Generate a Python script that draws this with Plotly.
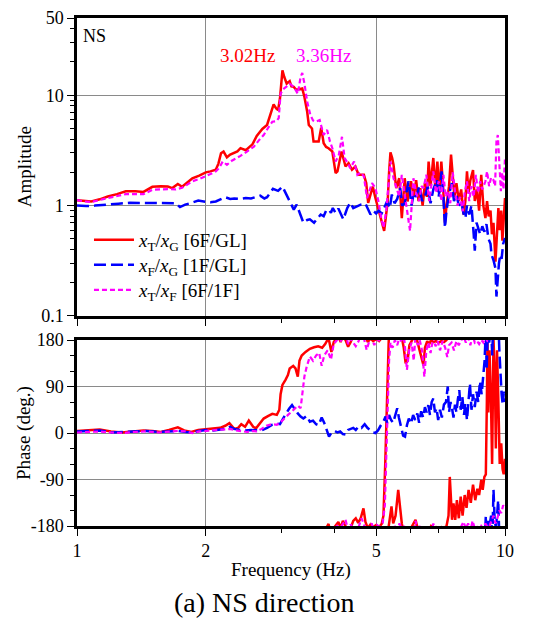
import plotly.graph_objects as go

# ---------------- data ----------------
# Amplitude: x_T/x_G [6F/GL]
f_tg = [1.00,1.04,1.08,1.13,1.18,1.24,1.30,1.37,1.43,1.50,1.57,1.63,1.67,1.72,1.76,1.81,1.86,1.93,2.00,2.05,2.11,2.14,2.17,2.20,2.24,2.28,2.33,2.37,2.41,2.48,2.53,2.57,2.63,2.67,2.71,2.78,2.84,2.88,2.92,2.95,2.98,3.02,3.05,3.09,3.14,3.17,3.21,3.25,3.30,3.36,3.40,3.45,3.48,3.54,3.57,3.67,3.72,3.77,3.82,3.87,3.95,4.02,4.06,4.10,4.15,4.20,4.24,4.31,4.39,4.47,4.55,4.68,4.74,4.79,4.85,4.91,4.98,5.07,5.16,5.22,5.27,5.32,5.36,5.40,5.45,5.49,5.57,5.66,5.74,5.83,5.92,6.03,6.12,6.20,6.28,6.34,6.42,6.50,6.57,6.63,6.70,6.80,6.88,6.95,7.02,7.10,7.16,7.24,7.30,7.40,7.48,7.55,7.62,7.70,7.80,7.90,8.00,8.08,8.15,8.22,8.30,8.42,8.50,8.60,8.70,8.80,8.90,9.00,9.08,9.16,9.25,9.32,9.40,9.50,9.58,9.65,9.72,9.80,9.86,9.92,10.0]
amp_tg = [1.12,1.10,1.09,1.14,1.21,1.27,1.35,1.35,1.33,1.48,1.50,1.49,1.44,1.57,1.48,1.62,1.77,1.87,2.00,2.04,2.11,2.40,2.98,3.09,2.74,2.90,3.04,3.10,3.31,3.17,3.40,3.59,4.27,4.60,4.94,5.37,7.08,8.24,7.60,7.33,9.33,16.8,14.6,12.7,13.4,12.0,11.9,11.2,11.3,11.5,9.6,7.08,5.37,5.0,3.80,3.80,5.08,3.67,3.40,3.31,3.09,1.97,2.04,2.50,3.09,2.60,2.26,2.42,2.11,2.26,1.90,1.90,1.60,1.06,1.25,1.49,1.17,0.92,0.72,0.59,0.80,1.09,2.0,3.04,2.70,2.34,1.44,1.77,0.77,1.77,1.09,1.66,1.20,1.70,1.10,1.44,1.00,1.60,1.20,2.50,1.50,2.70,1.40,2.50,1.30,2.50,1.60,0.70,1.00,1.50,2.90,2.00,1.20,1.60,1.10,1.40,0.83,1.10,2.04,1.30,1.70,2.10,1.10,1.40,0.90,1.90,1.00,0.77,1.10,0.80,0.90,0.55,0.70,0.31,0.60,0.95,0.60,0.90,0.48,0.80,1.17]

# Amplitude: x_F/x_G [1F/GL]
f_fg = [1.00,1.05,1.10,1.18,1.25,1.33,1.40,1.48,1.55,1.62,1.70,1.74,1.79,1.85,1.92,2.00,2.05,2.11,2.17,2.22,2.28,2.33,2.40,2.48,2.55,2.60,2.68,2.74,2.78,2.87,2.95,3.02,3.06,3.09,3.15,3.21,3.26,3.33,3.38,3.45,3.50,3.58,3.65,3.71,3.77,3.82,3.88,3.92,3.96,4.02,4.08,4.19,4.28,4.35,4.42,4.50,4.60,4.72,4.80,4.85,4.92,5.00,5.07,5.15,5.22,5.30,5.38,5.44,5.52,5.60,5.69,5.75,5.83,5.95,6.05,6.12,6.20,6.30,6.40,6.50,6.60,6.70,6.80,6.93,7.00,7.11,7.17,7.24,7.30,7.38,7.51,7.60,7.70,7.80,7.90,8.00,8.08,8.15,8.25,8.35,8.45,8.50,8.58,8.65,8.75,8.85,8.95,9.05,9.15,9.25,9.30,9.40,9.50,9.55,9.60,9.68,9.75,9.82,9.90,10.0]
amp_fg = [1.00,0.99,1.00,1.03,1.04,1.06,1.06,1.05,1.06,1.06,1.05,0.97,1.02,1.06,1.11,1.08,1.07,1.09,1.15,1.19,1.15,1.16,1.15,1.17,1.16,1.19,1.23,1.16,1.19,1.42,1.36,1.49,1.35,1.26,1.09,0.92,1.02,0.83,0.70,0.74,0.75,0.70,0.76,0.83,0.80,0.90,0.92,0.86,0.95,0.86,0.94,0.75,0.95,1.06,0.95,0.98,1.02,1.04,0.92,0.83,0.90,0.85,0.90,0.85,0.95,1.09,0.95,1.26,1.05,1.15,1.44,1.00,1.05,1.66,1.00,1.30,1.20,1.49,1.10,1.20,1.49,1.05,1.40,1.71,1.20,2.04,1.30,0.63,0.90,1.20,1.60,1.10,1.25,1.00,1.10,0.85,0.77,1.00,0.83,1.00,0.55,0.39,0.70,0.63,0.55,0.65,0.58,0.68,0.50,0.45,0.36,0.32,0.27,0.15,0.21,0.30,0.36,0.33,0.45,0.51]

# Amplitude: x_T/x_F [6F/1F]
f_tf = [1.00,1.04,1.08,1.13,1.18,1.24,1.30,1.37,1.43,1.50,1.57,1.63,1.70,1.76,1.81,1.86,1.93,2.00,2.05,2.11,2.15,2.19,2.24,2.30,2.37,2.41,2.50,2.59,2.66,2.73,2.80,2.86,2.92,2.96,2.99,3.03,3.09,3.14,3.21,3.28,3.33,3.36,3.40,3.45,3.51,3.56,3.61,3.69,3.77,3.84,3.90,3.95,4.02,4.09,4.16,4.22,4.30,4.35,4.44,4.52,4.60,4.68,4.76,4.84,4.89,4.98,5.06,5.12,5.20,5.28,5.34,5.40,5.49,5.58,5.66,5.74,5.84,5.94,6.00,6.11,6.20,6.30,6.38,6.45,6.55,6.65,6.80,6.90,7.00,7.10,7.18,7.27,7.37,7.45,7.55,7.65,7.75,7.85,7.97,8.05,8.15,8.25,8.35,8.45,8.55,8.65,8.75,8.85,9.00,9.08,9.18,9.28,9.40,9.48,9.55,9.62,9.70,9.78,9.85,9.92,10.0]
amp_tf = [1.12,1.09,1.08,1.12,1.17,1.22,1.27,1.27,1.27,1.39,1.41,1.41,1.40,1.45,1.55,1.66,1.74,1.84,1.93,2.04,2.20,2.51,2.34,2.55,2.70,2.82,3.10,3.42,3.90,4.36,5.10,5.75,5.80,6.20,10.3,11.3,12.0,12.7,11.9,10.3,14.6,15.9,12.7,8.7,6.6,5.9,5.75,5.95,4.36,4.85,3.80,3.31,2.51,2.88,4.20,2.69,2.40,2.18,2.51,1.90,2.0,1.84,1.17,1.40,1.60,1.44,1.10,0.83,0.63,0.90,1.60,2.51,1.77,1.44,1.20,1.90,1.20,0.75,0.59,1.77,1.30,1.10,1.50,1.44,1.90,1.10,2.04,1.30,1.66,1.10,1.90,1.20,1.35,1.05,2.00,1.30,1.00,1.20,0.89,1.30,1.66,1.10,1.50,1.20,1.90,1.30,1.66,1.40,1.66,2.04,1.50,1.80,1.70,1.50,3.80,4.36,2.20,1.35,2.00,1.40,2.69]

# Phase (deg., unwrapped; drawn with 360-degree copies)
fp_tg = [1.00,1.06,1.13,1.20,1.27,1.35,1.43,1.50,1.57,1.64,1.72,1.78,1.85,1.92,2.00,2.08,2.16,2.22,2.27,2.33,2.38,2.42,2.47,2.52,2.58,2.62,2.67,2.73,2.80,2.86,2.93,2.97,2.99,3.02,3.07,3.11,3.14,3.20,3.24,3.28,3.31,3.35,3.42,3.50,3.58,3.66,3.74,3.80,3.87,3.90,3.93,3.98,4.03,4.08,4.13,4.18,4.25,4.30,4.36,4.42,4.48,4.54,4.60,4.67,4.72,4.78,4.85,4.92,5.00,5.08,5.15,5.20,5.25,5.30,5.35,5.40,5.43,5.48,5.55,5.63,5.69,5.74,5.80,5.86,5.92,5.98,6.05,6.12,6.18,6.25,6.32,6.40,6.45,6.50,6.58,6.65,6.72,6.80,6.90,7.00,7.10,7.20,7.30,7.38,7.43,7.47,7.52,7.58,7.65,7.72,7.80,7.88,7.96,8.05,8.13,8.22,8.32,8.42,8.52,8.62,8.70,8.80,8.87,8.95,9.02,9.07,9.10,9.14,9.20,9.27,9.33,9.40,9.47,9.52,9.58,9.65,9.72,9.80,9.87,9.93,10.0]
ph_tg = [4,6,7,3,1,3,5,4,2,6,11,5,2,6,7,9,10,14,19,8,10,17,12,24,12,9,18,28,33,37,35,45,75,93,103,112,125,130,125,109,140,150,157,163,166,168,165,172,184,170,157,176,182,188,176,190,178,167,176,190,195,186,195,214,188,176,183,178,182,178,184,200,300,430,540,560,578,545,560,610,570,545,525,495,500,530,538,545,552,535,520,500,491,525,538,532,540,536,538,535,538,536,540,560,635,600,552,584,552,590,555,597,560,600,575,610,585,620,590,612,600,629,610,635,640,780,900,760,880,790,660,900,830,690,880,780,660,700,650,640,670]

fp_fg = [1.00,1.06,1.13,1.20,1.28,1.36,1.45,1.55,1.64,1.72,1.80,1.86,1.93,2.00,2.08,2.16,2.22,2.28,2.33,2.40,2.47,2.55,2.63,2.70,2.78,2.86,2.93,2.98,3.03,3.08,3.13,3.18,3.23,3.28,3.33,3.38,3.44,3.50,3.56,3.62,3.67,3.73,3.78,3.83,3.88,3.94,4.00,4.06,4.12,4.18,4.24,4.30,4.36,4.42,4.48,4.55,4.62,4.70,4.77,4.85,4.92,4.98,5.05,5.12,5.20,5.26,5.31,5.36,5.42,5.48,5.55,5.60,5.65,5.72,5.78,5.84,5.90,5.96,6.03,6.10,6.17,6.24,6.30,6.37,6.44,6.50,6.56,6.62,6.68,6.74,6.80,6.86,6.92,6.98,7.05,7.12,7.20,7.28,7.35,7.40,7.46,7.52,7.58,7.64,7.70,7.76,7.82,7.88,7.95,8.02,8.08,8.15,8.22,8.28,8.35,8.42,8.50,8.58,8.66,8.74,8.82,8.90,8.96,9.02,9.06,9.10,9.14,9.18,9.22,9.28,9.34,9.40,9.46,9.52,9.58,9.64,9.70,9.76,9.82,9.88,9.94,10.0]
ph_fg = [3,4,5,1,2,2,4,2,3,4,2,1,4,6,5,6,8,12,8,6,5,6,5,5,10,16,18,17,28,38,47,54,45,38,32,28,33,22,24,17,15,30,20,5,-7,2,4,1,3,-2,-3,6,8,10,6,13,10,17,10,5,1,0,5,14,22,32,18,35,25,20,40,48,30,10,-5,-7,15,28,18,35,25,38,20,42,30,50,40,54,35,60,67,40,48,25,45,30,55,60,90,40,60,48,30,55,40,65,83,45,70,35,58,25,60,96,45,75,50,80,60,100,75,109,140,200,122,180,190,175,185,200,150,250,190,178,200,230,160,100,75,55,80,60]

fp_tf = [1.00,1.06,1.13,1.20,1.28,1.36,1.45,1.55,1.64,1.72,1.80,1.86,1.93,2.00,2.10,2.20,2.28,2.35,2.42,2.50,2.57,2.63,2.70,2.77,2.85,2.93,3.00,3.06,3.12,3.18,3.24,3.28,3.33,3.37,3.40,3.44,3.50,3.56,3.62,3.68,3.73,3.78,3.85,3.92,3.98,4.05,4.12,4.18,4.24,4.30,4.36,4.42,4.48,4.55,4.62,4.68,4.75,4.82,4.88,4.95,5.02,5.10,5.18,5.24,5.30,5.36,5.40,5.46,5.53,5.60,5.67,5.74,5.82,5.90,5.97,6.05,6.12,6.18,6.25,6.32,6.40,6.48,6.55,6.62,6.70,6.80,6.88,6.96,7.05,7.15,7.25,7.33,7.40,7.50,7.60,7.70,7.80,7.90,8.00,8.10,8.20,8.30,8.40,8.50,8.60,8.70,8.80,8.90,9.00,9.10,9.20,9.30,9.40,9.50,9.60,9.70,9.80,9.90,10.0]
ph_tf = [1,2,3,1,0,2,3,1,2,4,3,0,3,4,5,6,8,5,3,2,4,3,8,14,17,16,22,30,36,42,50,53,48,80,110,128,148,140,150,155,130,150,160,142,172,180,176,185,192,172,183,175,168,178,195,184,161,178,185,170,182,178,186,220,360,500,535,525,540,530,545,535,540,482,520,535,500,550,530,540,520,469,520,535,515,545,528,538,520,538,525,507,530,535,520,538,530,538,548,535,545,530,550,535,538,532,540,535,545,538,540,550,560,545,555,570,565,580,575]

x_ticks = [1, 2, 5, 10]
x_labels = ["1", "2", "5", "10"]
x_minor = [3, 4, 6, 7, 8, 9]
amp_ticks = [0.1, 1, 10, 50]
amp_labels = ["0.1", "1", "10", "50"]
amp_minor = [0.2,0.3,0.4,0.5,0.6,0.7,0.8,0.9,2,3,4,5,6,7,8,9,20,30,40]
ph_ticks = [-180, -90, 0, 90, 180]
ph_labels = ["-180", "-90", "0", "90", "180"]
ph_minor = [-150,-120,-60,-30,30,60,120,150]

RED, BLUE, MAG = "#ff0000", "#0000ff", "#ff00ff"
FAM = "Liberation Serif"

def fnt(size, color="black"):
    return dict(family=FAM, size=size, color=color)

series = [
    ("<i>x</i><sub>T</sub>/<i>x</i><sub>G</sub> [6F/GL]", f_tg, amp_tg, fp_tg, ph_tg, RED, "solid", 2.5, "legend"),
    ("<i>x</i><sub>F</sub>/<i>x</i><sub>G</sub> [1F/GL]", f_fg, amp_fg, fp_fg, ph_fg, BLUE, "12px,5px", 2.5, "legend2"),
    ("<i>x</i><sub>T</sub>/<i>x</i><sub>F</sub> [6F/1F]", f_tf, amp_tf, fp_tf, ph_tf, MAG, "5px,3px", 2.2, "legend3"),
]

fig = go.Figure()
for name, fa, aa, fp, pp, col, dash, w, lg in series:
    for off in (0, 360, 720):
        fig.add_trace(go.Scatter(x=fp, y=[p - off for p in pp], mode="lines",
                                 line=dict(color=col, dash=dash, width=w),
                                 xaxis="x2", yaxis="y2", showlegend=False, hoverinfo="skip"))
for name, fa, aa, fp, pp, col, dash, w, lg in series:
    fig.add_trace(go.Scatter(x=fa, y=aa, mode="lines", name=name, legend=lg,
                             line=dict(color=col, dash=dash, width=w),
                             xaxis="x", yaxis="y"))

axis_common = dict(showline=True, linecolor="black", linewidth=2.5, mirror=True,
                   ticks="outside", tickcolor="black", tickwidth=1, ticklen=7,
                   zeroline=False, gridcolor="#8a8a8a", gridwidth=1.2,
                   automargin=False, ticklabeloverflow="allow", tickfont=fnt(18))
minor_common = dict(ticks="outside", ticklen=4, tickcolor="black", showgrid=False)

# page has an 8px body margin; figure is sized to fit the 547x618 window
W, H = 539, 610
ML, MR, MT, MB = 69, 42, 10, 92
TOP_LO, TOP_HI = 0.4134, 1.0
BOT_LO, BOT_HI = 0.0, 0.3661

def ann(text, x, y, size, color="black", angle=0):
    return dict(text=text, x=x, y=y, xref="paper", yref="paper", showarrow=False,
                xanchor="center", yanchor="middle", textangle=angle, font=fnt(size, color))

def leg(y):
    return dict(x=0.028, y=y, xanchor="left", yanchor="middle",
                bgcolor="rgba(255,255,255,0)", font=fnt(19), itemwidth=40)

fig.update_layout(
    width=W, height=H,
    margin=dict(l=ML, r=MR, t=MT, b=MB, autoexpand=False),
    paper_bgcolor="white", plot_bgcolor="white",
    font=fnt(18),
    showlegend=True,
    legend=leg(0.5630),
    legend2=leg(0.5138),
    legend3=leg(0.4646),
    xaxis=dict(type="log", range=[0, 1], domain=[0, 1], anchor="y",
               tickvals=x_ticks, showticklabels=False,
               minor=dict(tickvals=x_minor, **minor_common), **axis_common),
    yaxis=dict(type="log", range=[-1, 1.6992], domain=[TOP_LO, TOP_HI], anchor="x",
               tickvals=amp_ticks, ticktext=amp_labels,
               minor=dict(tickvals=amp_minor, **minor_common), **axis_common),
    xaxis2=dict(type="log", range=[0, 1], domain=[0, 1], anchor="y2",
                tickvals=x_ticks, ticktext=x_labels,
                minor=dict(tickvals=x_minor, **minor_common), **axis_common),
    yaxis2=dict(range=[-180, 180], domain=[BOT_LO, BOT_HI], anchor="x2",
                tickvals=ph_ticks, ticktext=ph_labels,
                minor=dict(tickvals=ph_minor, **minor_common), **axis_common),
    annotations=[
        ann("3.02Hz", 0.3995, 0.9262, 19, RED),
        ann("3.36Hz", 0.577, 0.9262, 19, MAG),
        ann("NS", 0.042, 0.9646, 18),
        ann("Amplitude", -0.124, 0.708, 19, angle=-90),
        ann("Phase (deg.)", -0.124, 0.183, 19, angle=-90),
        ann("Frequency (Hz)", 0.50, -0.087, 19),
        ann("(a) NS direction", 0.437, -0.150, 28),
    ],
)

fig.write_html("out.html")
